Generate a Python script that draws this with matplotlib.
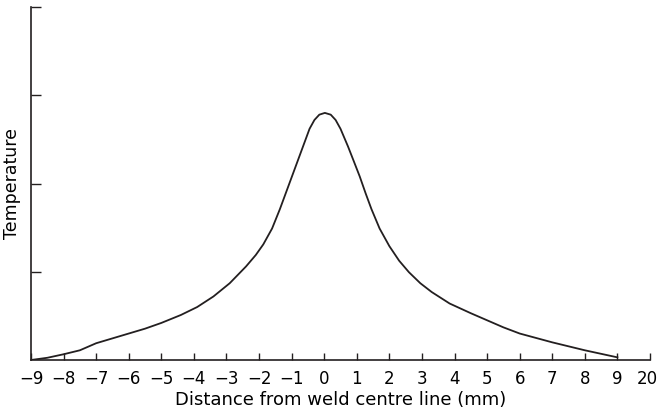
import numpy as np
import matplotlib.pyplot as plt
import matplotlib.transforms as mtransforms

plt.rcParams['font.family'] = ['DejaVu Sans']

# data (distance in mm, temperature in arbitrary units)
dist = [-9, -8.5, -8, -7.5, -7, -6.5, -6, -5.5, -5, -4.4, -3.9, -3.4, -2.9, -2.4, -2.1,
        -1.87, -1.6, -1.36, -1.15, -0.95, -0.65, -0.45, -0.3, -0.15, 0.02, 0.2, 0.35,
        0.5, 0.73, 0.9, 1.09, 1.27, 1.45, 1.7, 2.0, 2.3, 2.6, 2.95, 3.3, 3.85,
        4.5, 5, 5.5, 6, 6.5, 7, 7.5, 8, 8.5, 9]
temp = [0, 0.025, 0.065, 0.11, 0.19, 0.245, 0.30, 0.355, 0.42, 0.51, 0.60, 0.72, 0.87, 1.06, 1.19,
        1.31, 1.49, 1.71, 1.92, 2.12, 2.42, 2.62, 2.72, 2.78, 2.80, 2.78, 2.72,
        2.62, 2.42, 2.26, 2.08, 1.89, 1.71, 1.49, 1.29, 1.125, 0.995, 0.87, 0.77, 0.64,
        0.53, 0.45, 0.37, 0.30, 0.25, 0.20, 0.155, 0.11, 0.07, 0.03]

xticks = list(range(-9, 11))
xlabels = [str(v).replace('-', '\u2212') for v in range(-9, 10)] + ['20']
yticks = [1, 2, 3, 4]

fig = plt.figure(figsize=(6.59, 4.11), dpi=100)
ax = fig.add_axes([31 / 659, 1 - 360 / 411, (650 - 31) / 659, (360 - 7) / 411])

ax.plot(dist, temp, color='#231f20', lw=1.3, solid_joinstyle='round')

ax.set_xlim(-9, 10)
ax.set_ylim(0, 4)
ax.set_xticks(xticks)
ax.set_xticklabels(xlabels, fontsize=12)
ax.set_yticks(yticks)
ax.set_yticklabels([])
ax.tick_params(axis='x', direction='in', length=5, width=1, pad=7, color='#231f20')
ax.tick_params(axis='y', direction='in', length=7.5, width=1, color='#231f20')

# last label sits right at the figure edge, nudge it in a little
lab = ax.get_xticklabels()[-1]
lab.set_transform(lab.get_transform() + mtransforms.ScaledTranslation(-3 / 100, 0, fig.dpi_scale_trans))

for s in ['top', 'right']:
    ax.spines[s].set_visible(False)
for s in ['left', 'bottom']:
    ax.spines[s].set_color('#231f20')
    ax.spines[s].set_linewidth(1.2)

ax.set_xlabel('Distance from weld centre line (mm)', fontsize=13, labelpad=2)
ax.set_ylabel('Temperature', fontsize=12.5, labelpad=4)

fig.savefig('out.png', dpi=100)
